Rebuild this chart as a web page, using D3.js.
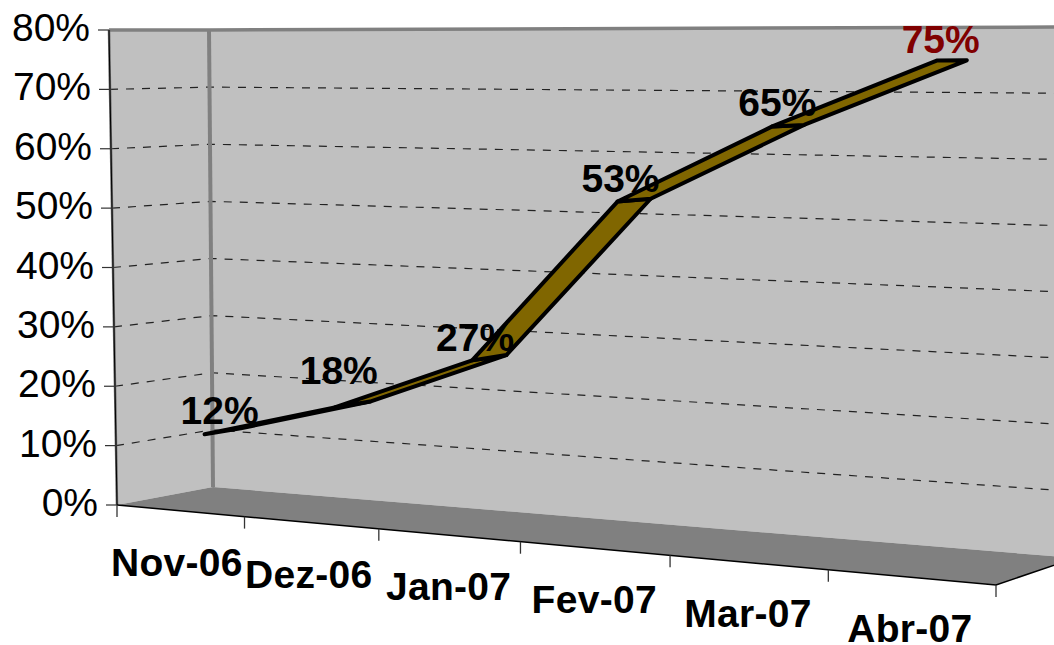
<!DOCTYPE html>
<html>
<head>
<meta charset="utf-8">
<script src="https://cdn.jsdelivr.net/npm/d3@7"></script>
<style>html,body{margin:0;padding:0;background:#fff}svg{display:block}text{font-family:"Liberation Sans",Arial,sans-serif}</style>
</head>
<body>
<svg id="c" width="1054" height="645"></svg>
<script>
// ---- data ----
const categories = ["Nov-06","Dez-06","Jan-07","Fev-07","Mar-07","Abr-07"];
const values = [12,18,27,53,65,75];
const valueTicks = [0,10,20,30,40,50,60,70,80];
const highlighted = "Abr-07";

// ---- layout: the 3-D box corners in pixels ----
const floorQuad = {fl:[117,505], fr:[996,585], br:[1075,558], bl:[213,487]};
const ceilQuad  = {fl:[109,30],  fr:[1002,26], br:[1079,27],  bl:[209,30]};
const ribbonFront = 0.27, ribbonBack = 0.65;
const perspK = -0.02526;   // foreshortening of the category axis

const lerp = (a,b,t)=>[a[0]+(b[0]-a[0])*t, a[1]+(b[1]-a[1])*t];
const quadPoint = (q,s,d)=>lerp(lerp(q.fl,q.fr,s),lerp(q.bl,q.br,s),d);
const n = categories.length;
const band = d3.scaleLinear().domain([0,n]).range([0,(1+n*perspK)]);
const sOf = u=>band(u)/(1+perspK*u);
const vFrac = d3.scaleLinear().domain([0,80]).range([0,1]);
// project(category position, depth 0..1, value)
function project(u,depth,v){
  const s=sOf(u);
  return lerp(quadPoint(floorQuad,s,depth),quadPoint(ceilQuad,s,depth),vFrac(v));
}
const line = d3.line();
const svg = d3.select("#c");
const GREY="#808080", WALL="#c0c0c0";

// walls and floor
svg.append("path").attr("fill",WALL).attr("d",line([project(0,0,0),project(0,1,0),project(0,1,80),project(0,0,80)])+"Z");
svg.append("path").attr("fill",WALL).attr("d",line([project(0,1,0),project(n,1,0),project(n,1,80),project(0,1,80)])+"Z");
svg.append("path").attr("fill",GREY).attr("d",line([project(0,0,0),project(n,0,0),project(n,1,0),project(0,1,0)])+"Z");

// grid lines on side wall and back wall
svg.append("g").selectAll("path").data(valueTicks.filter(v=>v>0&&v<80)).join("path")
  .attr("fill","none").attr("stroke","#222").attr("stroke-width",1.2).attr("stroke-dasharray","8,8")
  .attr("d",v=>line([project(0,0,v),project(0,1,v),project(n,1,v)]));

// frame edges
svg.append("path").attr("fill","none").attr("stroke",GREY).attr("stroke-width",3.5)
  .attr("d",line([project(0,0,80),project(0,1,80),project(n,1,80)]));
svg.append("path").attr("fill","none").attr("stroke",GREY).attr("stroke-width",4)
  .attr("d",line([project(0,1,80),project(0,1,0)]));
svg.append("path").attr("fill","none").attr("stroke","#666").attr("stroke-width",2.5)
  .attr("d",line([project(0,0,80),project(0,0,0)]));
svg.append("path").attr("fill","none").attr("stroke","#000").attr("stroke-width",1)
  .attr("d",line([project(0,0,80),project(0,0,0)]));
svg.append("path").attr("fill","none").attr("stroke","#000").attr("stroke-width",1.5)
  .attr("d",line([project(0,0,0),project(n,0,0),project(n,1,0)]));

// value ticks + labels
svg.append("g").selectAll("path").data(valueTicks).join("path")
  .attr("stroke","#333").attr("stroke-width",1.2)
  .attr("d",v=>{const p=project(0,0,v);return line([[p[0]-11,p[1]],p]);});
svg.append("g").selectAll("text").data(valueTicks).join("text")
  .attr("text-anchor","end").attr("font-size",39).attr("fill","#000")
  .attr("x",v=>project(0,0,v)[0]-19).attr("y",v=>project(0,0,v)[1]+11)
  .text(v=>v+"%");

// category ticks + labels
const categoryNudge = [-2,-1,1,1,1,0];
svg.append("g").selectAll("path").data(d3.range(n+1)).join("path")
  .attr("stroke","#333").attr("stroke-width",1.3)
  .attr("d",u=>{const p=project(u,0,0);return line([p,[p[0],p[1]+12]]);});
svg.append("g").selectAll("text").data(categories).join("text")
  .attr("text-anchor","middle").attr("font-size",39).attr("font-weight","bold").attr("letter-spacing",0.3).attr("fill","#000")
  .attr("x",(c,i)=>project(i+0.5,0,0)[0]-1+categoryNudge[i]).attr("y",(c,i)=>project(i+0.5,0,0)[1]+65)
  .text(c=>c);

// ribbon
const segs = d3.pairs(values.map((v,i)=>({v,i})));
svg.append("g").selectAll("path").data(segs).join("path")
  .attr("fill","#806600").attr("stroke","#000").attr("stroke-width",4).attr("stroke-linejoin","round")
  .attr("d",([a,b])=>line([
    project(a.i+0.5,ribbonFront,a.v),project(a.i+0.5,ribbonBack,a.v),
    project(b.i+0.5,ribbonBack,b.v),project(b.i+0.5,ribbonFront,b.v)])+"Z");

// data labels
const labelNudge = [[15,-10],[4,-23],[3,-9],[3,-10],[5,-10],[4,-8]];
svg.append("g").selectAll("text").data(values).join("text")
  .attr("text-anchor","middle").attr("font-size",39).attr("font-weight","bold")
  .attr("fill",(v,i)=>categories[i]===highlighted?"#800000":"#000")
  .attr("x",(v,i)=>project(i+0.5,ribbonFront,v)[0]+labelNudge[i][0])
  .attr("y",(v,i)=>project(i+0.5,ribbonFront,v)[1]+labelNudge[i][1])
  .text(v=>v+"%");
</script>
</body>
</html>
